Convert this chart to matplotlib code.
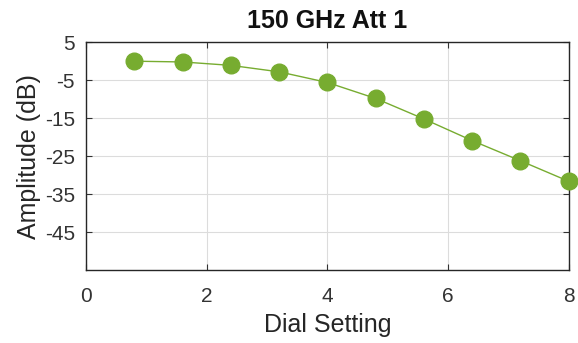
import matplotlib
matplotlib.use("Agg")
import matplotlib.pyplot as plt

dial = [0.8, 1.6, 2.4, 3.2, 4.0, 4.8, 5.6, 6.4, 7.2, 8.0]
amplitude = [0.0, -0.2, -1.1, -2.8, -5.6, -9.8, -15.2, -20.9, -26.2, -31.6]
xticks = [0, 2, 4, 6, 8]
yticks = [5, -5, -15, -25, -35, -45]

plt.rcParams["font.family"] = ["Liberation Sans", "DejaVu Sans"]
txt = "#262626"
green = "#77AC30"

fig = plt.figure(figsize=(5.78, 3.43), dpi=100)
ax = fig.add_axes([0.149, 0.212, 0.835, 0.665])

ax.plot(dial, amplitude, "-o", color=green, lw=1.0, markersize=12,
        markerfacecolor=green, markeredgecolor=green, clip_on=False, zorder=3)

ax.set_xlim(0, 8)
ax.set_ylim(-55, 5)
ax.set_xticks(xticks)
ax.set_yticks(yticks)
ax.set_yticklabels([str(v) for v in yticks])
ax.grid(True, color="#dcdcdc", lw=0.8)
ax.set_axisbelow(True)
ax.tick_params(direction="in", length=4, width=0.8, colors="#333333", labelsize=15,
               top=True, right=True)
ax.tick_params(axis="x", pad=12)
ax.tick_params(axis="y", pad=8)
for s in ax.spines.values():
    s.set_color(txt)
    s.set_linewidth(1.0)

ax.set_xlabel("Dial Setting", fontsize=18, color=txt, labelpad=5)
ax.set_ylabel("Amplitude (dB)", fontsize=18, color=txt, labelpad=3)
ax.set_title("150 GHz Att 1", fontsize=18, fontweight="bold", color="#111111", pad=10)

plt.savefig("out.png", dpi=100)
plt.close()
